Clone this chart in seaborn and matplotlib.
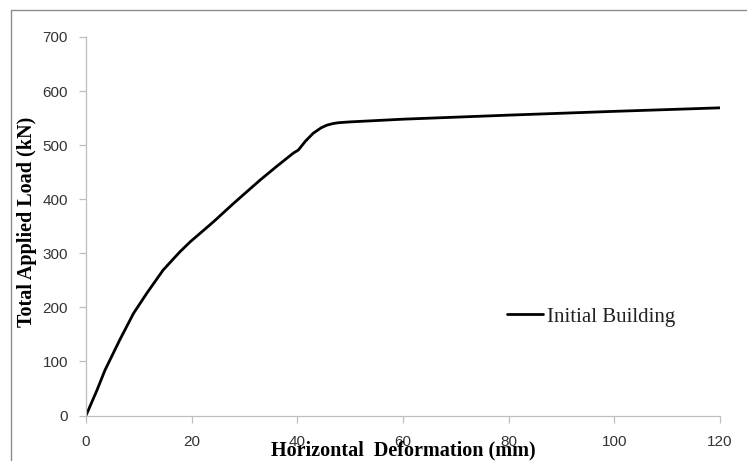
import matplotlib
matplotlib.use("Agg")
import matplotlib.pyplot as plt
import seaborn as sns
import pandas as pd
from matplotlib.lines import Line2D

# Data
deformation_mm = [0, 2, 3.6, 6.4, 9, 11.5, 14.6, 17.8, 19.7, 24.1, 27.9, 32.9, 36,
                  39.2, 40.2, 41.5, 43, 44.5, 45.6, 46.8, 47.8, 50, 60, 80, 100, 120]
load_kN = [0, 45, 84, 140, 189, 226, 269, 303, 321, 358, 392, 435, 460,
           485, 491, 507, 522, 532, 537, 540, 541.5, 543, 548, 555.5, 562.5, 569]
series_name = "Initial Building"
x_ticks = [0, 20, 40, 60, 80, 100, 120]
y_ticks = [0, 100, 200, 300, 400, 500, 600, 700]

df = pd.DataFrame({"x": deformation_mm, "y": load_kN, "series": series_name})

sns.set_theme(style="white")
plt.rcParams["font.family"] = ["Liberation Sans", "DejaVu Sans"]

fig = plt.figure(figsize=(7.47, 4.61), dpi=100)
ax = fig.add_axes([86/747, 1 - 415.5/461, (720-86)/747, (415.5-37)/461])

sns.lineplot(data=df, x="x", y="y", ax=ax, color="black", linewidth=2.0,
             sort=False, estimator=None, legend=False)

ax.set_xlim(0, 120)
ax.set_ylim(0, 700)
ax.set_xticks(x_ticks)
ax.set_yticks(y_ticks)
ax.set_xticklabels([str(t) for t in x_ticks])
ax.set_yticklabels([str(t) for t in y_ticks])

spine_color = "#bfbfbf"
for s in ["top", "right"]:
    ax.spines[s].set_visible(False)
for s in ["left", "bottom"]:
    ax.spines[s].set_color(spine_color)
    ax.spines[s].set_linewidth(0.9)
ax.tick_params(axis="both", which="major", direction="out", length=5, width=0.9,
               color=spine_color, labelsize=11, labelcolor="#333333")
ax.tick_params(axis="y", pad=8, left=True)
ax.tick_params(axis="x", pad=9, bottom=True)
ax.grid(False)

ax.set_xlabel("")
ax.set_ylabel("")
fig.text(403/747, 1 - 450/461, "Horizontal  Deformation (mm)", ha="center", va="center",
         family=["Liberation Serif", "DejaVu Serif"], fontweight="bold", fontsize=14.5,
         color="black")
fig.text(27/747, 1 - 222/461, "Total Applied Load (kN)", ha="center", va="center",
         rotation=90, family=["Liberation Serif", "DejaVu Serif"], fontweight="bold",
         fontsize=14.5, color="black")

handle = Line2D([0], [0], color="black", linewidth=2.0)
leg = ax.legend([handle], [series_name], loc="center left",
                bbox_to_anchor=((507-86)/634, (415.5-317)/378.5), frameon=False,
                handlelength=1.75, handletextpad=0.15, borderaxespad=0, borderpad=0,
                prop={"family": "Liberation Serif", "size": 15})
for t in leg.get_texts():
    t.set_color("#222222")

# outer figure border (left and top visible)
fig.add_artist(Line2D([11/747, 11/747], [0, 1 - 10/461], transform=fig.transFigure,
                      color="#8c8c8c", linewidth=1.0))
fig.add_artist(Line2D([11/747, 1], [1 - 10/461, 1 - 10/461], transform=fig.transFigure,
                      color="#8c8c8c", linewidth=1.0))

fig.savefig("out.png", dpi=100)
